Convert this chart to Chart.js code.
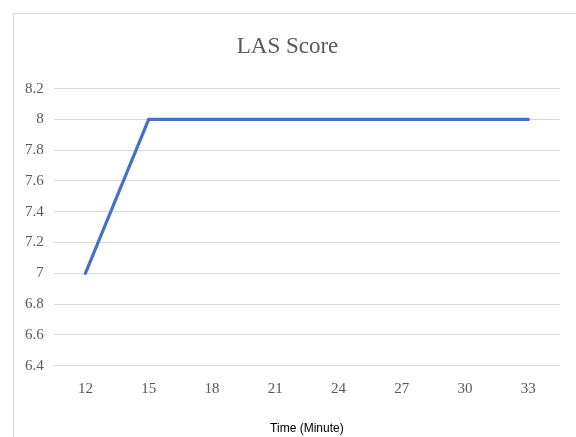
<!DOCTYPE html>
<html>
<head>
<meta charset="utf-8">
<script src="https://cdn.jsdelivr.net/npm/chart.js@4/dist/chart.umd.min.js"></script>
<style>
  html, body { margin: 0; padding: 0; background: #ffffff; overflow: hidden; }
  #wrap { position: relative; width: 576px; height: 437px; }
  #frame { position: absolute; left: 13px; top: 13px; width: 600px; height: 460px; border: 1px solid #d9d9d9; box-sizing: border-box; }
  canvas { position: absolute; left: 0; top: 0; }
</style>
</head>
<body>
<div id="wrap">
  <div id="frame"></div>
  <canvas id="c" width="576" height="437"></canvas>
</div>
<script>
const categories = ['12', '15', '18', '21', '24', '27', '30', '33'];
const lasScore = [7, 8, 8, 8, 8, 8, 8, 8];
const yMin = 6.4, yMax = 8.2, yStep = 0.2;
const chartTitle = 'LAS Score';
const xTitle = 'Time (Minute)';

new Chart(document.getElementById('c'), {
  type: 'line',
  data: {
    labels: categories,
    datasets: [{
      label: chartTitle,
      data: lasScore,
      borderColor: '#4472C4',
      borderWidth: 3.2,
      pointRadius: 0,
      tension: 0,
      borderCapStyle: 'round',
      borderJoinStyle: 'round',
      fill: false
    }]
  },
  options: {
    responsive: false,
    animation: false,
    layout: { padding: { left: 15, right: 16, top: 22, bottom: 1 } },
    plugins: {
      legend: { display: false },
      tooltip: { enabled: false },
      title: {
        display: true,
        text: chartTitle,
        color: '#595959',
        font: { family: 'Liberation Serif', size: 23, weight: 'normal' },
        padding: { top: 11, bottom: 28 }
      }
    },
    scales: {
      x: {
        type: 'category',
        offset: true,
        grid: { display: false, drawTicks: false },
        border: { display: false },
        ticks: { color: '#595959', font: { family: 'Liberation Serif', size: 15 }, padding: 14, maxRotation: 0 },
        title: {
          display: true,
          text: xTitle,
          color: '#000000',
          font: { family: 'Liberation Sans', size: 12 },
          padding: { top: 10, bottom: 0 }
        }
      },
      y: {
        min: yMin,
        max: yMax,
        grid: { color: '#d9d9d9', lineWidth: 1, drawTicks: false },
        border: { display: false },
        ticks: {
          stepSize: yStep,
          color: '#595959',
          font: { family: 'Liberation Serif', size: 15 },
          padding: 10,
          callback: (v) => String(Math.round(v * 10) / 10)
        }
      }
    }
  }
});
</script>
</body>
</html>
